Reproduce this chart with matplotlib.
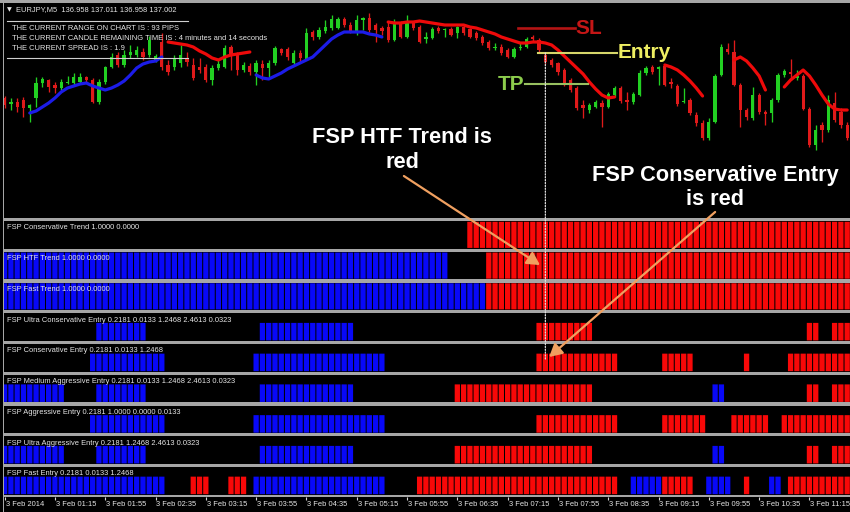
import numpy as np
import matplotlib
matplotlib.use("Agg")
import matplotlib.pyplot as plt
from matplotlib.patches import ConnectionPatch, Rectangle

# ---------------------------------------------------------------- data
symbol_header = "EURJPY,M5  136.958 137.011 136.958 137.002"
info_lines = [
    "THE CURRENT RANGE ON CHART IS : 93 PIPS",
    "THE CURRENT CANDLE REMAINING TIME IS : 4 minutes and 14 seconds",
    "THE CURRENT SPREAD IS : 1.9",
]

opens = [
    137.142, 137.100, 137.114, 137.128, 137.072, 137.142, 137.247, 137.268, 137.233, 137.212,
    137.247, 137.247, 137.254, 137.289, 137.268, 137.114, 137.254, 137.359, 137.443, 137.373,
    137.443, 137.443, 137.464, 137.443, 137.408, 137.534, 137.373, 137.359, 137.387, 137.422,
    137.373, 137.359, 137.359, 137.268, 137.352, 137.359, 137.499, 137.443, 137.338, 137.366,
    137.324, 137.380, 137.352, 137.387, 137.485, 137.485, 137.387, 137.457, 137.415, 137.604,
    137.569, 137.611, 137.632, 137.632, 137.695, 137.653, 137.611, 137.688, 137.702, 137.653,
    137.632, 137.639, 137.548, 137.667, 137.569, 137.667, 137.639, 137.555, 137.562, 137.632,
    137.618, 137.625, 137.597, 137.639, 137.625, 137.597, 137.569, 137.534, 137.492, 137.499,
    137.478, 137.429, 137.492, 137.499, 137.569, 137.548, 137.443, 137.408, 137.387, 137.338,
    137.268, 137.212, 137.093, 137.058, 137.079, 137.107, 137.079, 137.163, 137.212, 137.128,
    137.114, 137.163, 137.317, 137.359, 137.345, 137.366, 137.254, 137.226, 137.114, 137.128,
    137.023, 136.967, 136.862, 136.974, 137.303, 137.485, 137.464, 137.233, 137.058, 137.002,
    137.163, 137.044, 137.037, 137.128, 137.303, 137.324, 137.282, 137.296, 137.065, 136.813,
    136.953, 136.918, 137.107, 137.044, 136.953,
]
highs = [
    137.156, 137.142, 137.142, 137.149, 137.100, 137.289, 137.289, 137.275, 137.254, 137.275,
    137.296, 137.317, 137.317, 137.296, 137.282, 137.275, 137.366, 137.457, 137.464, 137.478,
    137.513, 137.506, 137.492, 137.576, 137.450, 137.597, 137.408, 137.443, 137.513, 137.464,
    137.422, 137.422, 137.380, 137.373, 137.408, 137.513, 137.513, 137.464, 137.394, 137.387,
    137.408, 137.408, 137.408, 137.506, 137.492, 137.499, 137.478, 137.478, 137.632, 137.618,
    137.639, 137.688, 137.723, 137.709, 137.709, 137.674, 137.723, 137.709, 137.737, 137.667,
    137.646, 137.674, 137.695, 137.681, 137.723, 137.681, 137.653, 137.604, 137.639, 137.646,
    137.632, 137.639, 137.646, 137.653, 137.632, 137.611, 137.583, 137.548, 137.527, 137.520,
    137.492, 137.499, 137.527, 137.569, 137.583, 137.562, 137.457, 137.422, 137.394, 137.352,
    137.282, 137.226, 137.128, 137.107, 137.128, 137.128, 137.184, 137.226, 137.226, 137.184,
    137.184, 137.338, 137.366, 137.373, 137.366, 137.380, 137.282, 137.240, 137.212, 137.142,
    137.044, 136.988, 137.002, 137.310, 137.520, 137.527, 137.548, 137.247, 137.072, 137.219,
    137.177, 137.058, 137.142, 137.317, 137.345, 137.415, 137.338, 137.310, 137.079, 136.953,
    136.974, 137.163, 137.184, 137.072, 136.974,
]
lows = [
    137.072, 137.058, 137.044, 137.009, 136.974, 137.079, 137.219, 137.184, 137.177, 137.198,
    137.240, 137.233, 137.240, 137.254, 137.107, 137.100, 137.240, 137.352, 137.359, 137.359,
    137.422, 137.429, 137.408, 137.429, 137.394, 137.338, 137.303, 137.338, 137.359, 137.366,
    137.268, 137.317, 137.254, 137.233, 137.338, 137.352, 137.338, 137.303, 137.324, 137.303,
    137.233, 137.268, 137.289, 137.373, 137.443, 137.408, 137.373, 137.394, 137.408, 137.548,
    137.555, 137.597, 137.618, 137.625, 137.639, 137.597, 137.583, 137.618, 137.604, 137.534,
    137.583, 137.534, 137.541, 137.562, 137.562, 137.618, 137.527, 137.527, 137.555, 137.597,
    137.569, 137.576, 137.562, 137.583, 137.562, 137.548, 137.513, 137.478, 137.478, 137.443,
    137.422, 137.422, 137.478, 137.492, 137.541, 137.464, 137.380, 137.359, 137.303, 137.226,
    137.184, 137.058, 137.002, 137.037, 137.072, 136.939, 137.072, 137.149, 137.107, 137.058,
    137.100, 137.156, 137.303, 137.310, 137.233, 137.226, 137.212, 137.086, 137.107, 137.023,
    136.946, 136.848, 136.848, 136.967, 137.296, 137.450, 137.226, 136.939, 136.988, 136.988,
    137.030, 136.953, 136.974, 137.114, 137.289, 137.268, 137.268, 137.058, 136.799, 136.778,
    136.834, 136.904, 136.974, 136.932, 136.848,
]
closes = [
    137.093, 137.114, 137.079, 137.072, 137.093, 137.247, 137.275, 137.219, 137.212, 137.254,
    137.254, 137.289, 137.289, 137.268, 137.114, 137.254, 137.359, 137.429, 137.373, 137.443,
    137.464, 137.478, 137.429, 137.548, 137.436, 137.359, 137.324, 137.422, 137.443, 137.394,
    137.282, 137.338, 137.268, 137.352, 137.380, 137.492, 137.443, 137.338, 137.373, 137.324,
    137.387, 137.352, 137.387, 137.492, 137.457, 137.429, 137.457, 137.422, 137.597, 137.569,
    137.618, 137.639, 137.695, 137.695, 137.653, 137.611, 137.688, 137.702, 137.618, 137.618,
    137.611, 137.548, 137.674, 137.569, 137.674, 137.632, 137.534, 137.569, 137.625, 137.611,
    137.625, 137.583, 137.639, 137.597, 137.569, 137.562, 137.527, 137.492, 137.499, 137.457,
    137.429, 137.485, 137.499, 137.555, 137.555, 137.478, 137.394, 137.373, 137.324, 137.233,
    137.198, 137.072, 137.072, 137.093, 137.114, 137.079, 137.170, 137.212, 137.121, 137.114,
    137.170, 137.317, 137.352, 137.324, 137.359, 137.233, 137.240, 137.100, 137.121, 137.037,
    136.967, 136.862, 136.974, 137.296, 137.499, 137.464, 137.233, 137.058, 137.009, 137.163,
    137.044, 137.030, 137.128, 137.303, 137.331, 137.310, 137.296, 137.065, 136.813, 136.918,
    136.918, 137.128, 136.988, 136.953, 136.862,
]

# trend line pieces: (first bar, values)
trend_up_segments = [
    (4, [137.037, 137.051, 137.079, 137.107, 137.142, 137.184, 137.212, 137.226, 137.240, 137.247,
         137.226, 137.212, 137.198, 137.212, 137.233, 137.261, 137.303, 137.352, 137.380, 137.394,
         137.401, 137.429]),
    (40, [137.303, 137.282, 137.275, 137.296, 137.317, 137.345, 137.366, 137.387, 137.408, 137.429,
          137.471, 137.513, 137.555, 137.583, 137.604, 137.604, 137.604, 137.604, 137.590, 137.583,
          137.569]),
]
trend_down_segments = [
    (26, [137.534, 137.527, 137.520, 137.513, 137.499, 137.471, 137.450, 137.422, 137.408, 137.429,
          137.443, 137.450, 137.457, 137.464]),
    (61, [137.674, 137.667, 137.667, 137.674, 137.674, 137.681, 137.674, 137.667, 137.660, 137.653,
          137.653, 137.653, 137.653, 137.639, 137.632, 137.618, 137.604, 137.590, 137.569, 137.555,
          137.541, 137.527, 137.527, 137.534, 137.534, 137.527, 137.513, 137.478, 137.436, 137.394,
          137.352, 137.310, 137.254, 137.205, 137.163, 137.142, 137.149]),
    (105, [137.373, 137.359, 137.338, 137.303, 137.261, 137.212, 137.156]),
    (116, [137.408, 137.429, 137.401, 137.352, 137.296, 137.198]),
    (124, [137.219, 137.268, 137.303, 137.338, 137.296, 137.233, 137.163, 137.100, 137.065, 137.058,
           137.058]),
]

# trade levels: name -> (price, first bar, last bar)
entry_bar = 86
trade_levels = {
    "SL": (137.632, 81.6, 90.7),
    "Entry": (137.457, 84.8, 97.4),
    "TP": (137.240, 82.8, 92.8),
}

# indicator sub-windows: label and runs of (first bar, last bar, +1 up / -1 down)
panel_labels = [
    "FSP Conservative Trend 1.0000 0.0000",
    "FSP HTF Trend 1.0000 0.0000",
    "FSP Fast Trend 1.0000 0.0000",
    "FSP Ultra Conservative Entry 0.2181 0.0133 1.2468 2.4613 0.0323",
    "FSP Conservative Entry 0.2181 0.0133 1.2468",
    "FSP Medium Aggressive Entry 0.2181 0.0133 1.2468 2.4613 0.0323",
    "FSP Aggressive Entry 0.2181 1.0000 0.0000 0.0133",
    "FSP Ultra Aggressive Entry 0.2181 1.2468 2.4613 0.0323",
    "FSP Fast Entry 0.2181 0.0133 1.2468",
]
panel_runs = [
    [(74, 134, -1)],
    [(0, 70, 1), (77, 134, -1)],
    [(0, 76, 1), (77, 134, -1)],
    [(15, 22, 1), (41, 55, 1), (85, 93, -1), (128, 129, -1), (132, 134, -1)],
    [(14, 25, 1), (40, 60, 1), (85, 97, -1), (105, 109, -1), (118, 118, -1), (125, 134, -1)],
    [(0, 9, 1), (15, 22, 1), (41, 55, 1), (72, 93, -1), (113, 114, 1), (128, 129, -1), (132, 134, -1)],
    [(14, 25, 1), (40, 60, 1), (85, 97, -1), (105, 111, -1), (116, 121, -1), (124, 134, -1)],
    [(0, 9, 1), (15, 22, 1), (41, 55, 1), (72, 93, -1), (113, 114, 1), (128, 129, -1), (132, 134, -1)],
    [(0, 25, 1), (30, 32, -1), (36, 38, -1), (40, 60, 1), (66, 97, -1), (100, 104, 1), (105, 109, -1),
     (112, 115, 1), (118, 118, -1), (122, 123, 1), (125, 134, -1)],
]
time_labels = [
    "3 Feb 2014", "3 Feb 01:15", "3 Feb 01:55", "3 Feb 02:35", "3 Feb 03:15", "3 Feb 03:55",
    "3 Feb 04:35", "3 Feb 05:15", "3 Feb 05:55", "3 Feb 06:35", "3 Feb 07:15", "3 Feb 07:55",
    "3 Feb 08:35", "3 Feb 09:15", "3 Feb 09:55", "3 Feb 10:35", "3 Feb 11:15",
]

# ---------------------------------------------------------------- figure
W, H = 850, 512
fig = plt.figure(figsize=(W / 100, H / 100), dpi=100, facecolor="#a6a6a6")
SANS = ["Liberation Sans", "DejaVu Sans"]
SMALL = dict(family=SANS, fontsize=5.4, color="#e6e6e6")
UP_BAR, DOWN_BAR = "#0808f8", "#f80808"


def add_px_axes(x0, y0, x1, y1):
    a = fig.add_axes([x0 / W, 1 - y1 / H, (x1 - x0) / W, (y1 - y0) / H])
    a.set_facecolor("black")
    for s in a.spines.values():
        s.set_visible(False)
    a.set_xticks([])
    a.set_yticks([])
    return a


fig.add_artist(Rectangle((0, 0), 2.5 / W, 1 - 3 / H, transform=fig.transFigure,
                         facecolor="black", edgecolor="none"))

n = len(opens)
idx = np.arange(n)
XLIM = (-0.1, 134.45)

# ---- price window
ax = add_px_axes(4, 3, 850, 218)
ax.set_xlim(*XLIM)
ax.set_ylim(136.302, 137.807)

o, h, l, c = map(np.asarray, (opens, highs, lows, closes))
ccol = np.where(c >= o, "#22d022", "#e01a1a")
ax.vlines(idx, l, h, colors=ccol, lw=0.95, zorder=2)
ax.bar(idx, np.maximum(np.abs(c - o), 0.006), bottom=np.minimum(o, c), width=0.52,
       color=ccol, linewidth=0, zorder=3)

for start, vals in trend_up_segments:
    ax.plot(np.arange(start, start + len(vals)), vals, color="#1c1ce8", lw=2.3,
            solid_capstyle="round", zorder=4)
for start, vals in trend_down_segments:
    ax.plot(np.arange(start, start + len(vals)), vals, color="#ee0a0a", lw=2.3,
            solid_capstyle="round", zorder=4)


def mfrac(px, py):
    return ((px - 4) / 846, (218 - py) / 215)


ax.text(*mfrac(9, 9.5), "\u25bc", transform=ax.transAxes, family="DejaVu Sans",
        fontsize=4.5, color="#e6e6e6", ha="center", va="center", zorder=6)
ax.text(*mfrac(16, 10), symbol_header, transform=ax.transAxes, ha="left", va="center",
        zorder=6, **SMALL)
for py_line in (20.7, 58.3):
    ax.plot([mfrac(7, 0)[0], mfrac(188, 0)[0]], [mfrac(0, py_line)[1]] * 2,
            transform=ax.transAxes, color="#d0d0d0", lw=0.8, zorder=6)
for line, py_t in zip(info_lines, (29, 39, 48)):
    ax.text(*mfrac(12, py_t), line, transform=ax.transAxes, ha="left", va="center",
            zorder=6, **SMALL)

# trade level markers
level_style = {"SL": "#c41616", "Entry": "#eeee62", "TP": "#8ccc4c"}
line_style = {"SL": "#b41414", "Entry": "#d6d66a", "TP": "#98c060"}
for name, (price, x0, x1) in trade_levels.items():
    ax.plot([x0, x1], [price, price], color=line_style[name], lw=1.5 if name != "SL" else 1.9,
            zorder=5)
    if name == "TP":
        ax.text(x0 - 0.15, price, name, ha="right", va="center", family=SANS,
                weight="bold", fontsize=15, color=level_style[name], zorder=6)
    else:
        ax.text(x1 + 0.15, price, name, ha="left", va="center", family=SANS,
                weight="bold", fontsize=15, color=level_style[name], zorder=6)

ax.text(63.2, 136.778, "FSP HTF Trend is\nred", ha="center", va="center",
        multialignment="center", family=SANS, weight="bold", fontsize=15.7,
        color="white", zorder=6)
ax.text(113.0, 136.517, "FSP Conservative Entry\nis red", ha="center", va="center",
        multialignment="center", family=SANS, weight="bold", fontsize=15.7,
        color="white", zorder=6)

# ---- indicator sub-windows
panels = []
for k, (label, runs) in enumerate(zip(panel_labels, panel_runs)):
    top = 221 + 30.75 * k
    pax = add_px_axes(4, top, 850, top + 27.7)
    pax.set_xlim(*XLIM)
    pax.set_ylim(-0.03, 1.03 if k < 3 else 1.55)
    sig = np.zeros(n)
    for a, b, s in runs:
        sig[a:b + 1] = s
    m = sig != 0
    bars = pax.bar(idx[m], np.ones(m.sum()), width=0.84,
                   color=np.where(sig[m] > 0, UP_BAR, DOWN_BAR), linewidth=0)
    for r in bars:
        r.set_snap(False)
    pax.text(0.0035, 0.75, label, transform=pax.transAxes, ha="left", va="center",
             zorder=5, **SMALL)
    panels.append(pax)

# ---- time axis
tax = add_px_axes(4, 497, 850, 512)
tax.set_xlim(*XLIM)
tax.set_ylim(0, 1)
tick_bars = np.arange(0, n, 8)
tax.vlines(tick_bars, 0.78, 1.0, color="#d8d8d8", lw=0.8)
for b, lab in zip(tick_bars, time_labels):
    tax.text(b + 0.15, 0.5, lab, ha="left", va="center", **SMALL)

# ---- entry marker and call-out arrows
entry_price = trade_levels["Entry"][0]
fig.add_artist(ConnectionPatch((entry_bar, entry_price), (entry_bar, 0.65),
                               coordsA=ax.transData, coordsB=panels[4].transData,
                               color="#e0e0e0", lw=0.9, linestyle=(0, (1, 1.3)), zorder=8))
arrow_kw = dict(arrowstyle="-|>,head_length=0.55,head_width=0.3", mutation_scale=14,
                color="#f0a060", lw=1.6, zorder=9)
fig.add_artist(ConnectionPatch((63.5, 136.596), (85.15, 0.52), coordsA=ax.transData,
                               coordsB=panels[1].transData, **arrow_kw))
fig.add_artist(ConnectionPatch((113.0, 136.344), (86.6, 0.81), coordsA=ax.transData,
                               coordsB=panels[4].transData, **arrow_kw))

fig.savefig("out.png", dpi=100, facecolor=fig.get_facecolor())
